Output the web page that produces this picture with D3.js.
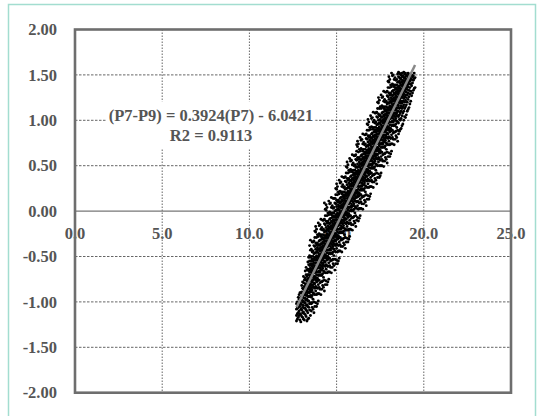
<!DOCTYPE html>
<html>
<head>
<meta charset="utf-8">
<script src="https://cdn.jsdelivr.net/npm/d3@7"></script>
<style>
  html, body { margin: 0; padding: 0; background: #fff; }
  svg { display: block; }
  .tick-label { font-family: "Liberation Serif", "Times New Roman", serif; font-weight: bold; font-size: 16.5px; fill: #555; }
</style>
</head>
<body>
<div id="chart"></div>
<script>
// axis ticks
var xTicks = [0, 5, 10, 15, 20, 25];
var yTicks = [-2, -1.5, -1, -0.5, 0, 0.5, 1, 1.5, 2];

// trendline from the chart label
var slope = 0.3924, intercept = -6.0421, r2 = 0.9113;

var p7Cols = [12.7, 12.8, 12.9, 13.0, 13.1, 13.2, 13.3, 13.4, 13.5, 13.6, 13.7, 13.8, 13.9,
  14.0, 14.1, 14.2, 14.3, 14.4, 14.5, 14.6, 14.7, 14.8, 14.9, 15.0, 15.1, 15.2, 15.3, 15.4,
  15.5, 15.6, 15.7, 15.8, 15.9, 16.0, 16.1, 16.2, 16.3, 16.4, 16.5, 16.6, 16.7, 16.8, 16.9,
  17.0, 17.1, 17.2, 17.3, 17.4, 17.5, 17.6, 17.7, 17.8, 17.9, 18.0, 18.1, 18.2, 18.3, 18.4,
  18.5, 18.6, 18.7, 18.8, 18.9, 19.0, 19.1, 19.2, 19.3, 19.4, 19.5];

var diffCols = [
  [-1.21, -1.15, -1.08, -1.02],
  [-1.17, -1.12, -1.06, -1.01, -0.95],
  [-1.20, -1.13, -1.05, -1.00, -0.96, -0.90],
  [-1.16, -1.09, -1.03, -0.98, -0.94, -0.89, -0.82],
  [-1.19, -1.11, -1.04, -0.99, -0.93, -0.90, -0.86, -0.79, -0.72],
  [-1.14, -1.07, -1.01, -0.96, -0.91, -0.87, -0.84, -0.80, -0.74, -0.66],
  [-1.21, -1.10, -1.03, -0.97, -0.92, -0.88, -0.84, -0.81, -0.77, -0.72, -0.65],
  [-1.18, -1.06, -0.99, -0.94, -0.89, -0.84, -0.80, -0.77, -0.74, -0.70, -0.66, -0.59, -0.51],
  [-1.15, -1.01, -0.93, -0.88, -0.83, -0.80, -0.76, -0.73, -0.70, -0.66, -0.63, -0.58, -0.51, -0.43, -0.32],
  [-1.06, -1.01, -0.93, -0.87, -0.82, -0.78, -0.76, -0.72, -0.69, -0.66, -0.61, -0.58, -0.53, -0.45, -0.34],
  [-1.12, -1.00, -0.91, -0.84, -0.79, -0.75, -0.72, -0.67, -0.64, -0.60, -0.57, -0.53, -0.47, -0.38, -0.33],
  [-1.01, -0.88, -0.83, -0.76, -0.73, -0.66, -0.64, -0.61, -0.57, -0.54, -0.51, -0.46, -0.42, -0.35, -0.23, -0.17],
  [-1.02, -0.91, -0.85, -0.77, -0.74, -0.67, -0.63, -0.60, -0.58, -0.54, -0.51, -0.44, -0.40, -0.35, -0.26],
  [-0.91, -0.84, -0.76, -0.70, -0.66, -0.60, -0.57, -0.52, -0.51, -0.48, -0.42, -0.38, -0.33, -0.25, -0.16],
  [-0.92, -0.78, -0.70, -0.65, -0.60, -0.56, -0.53, -0.50, -0.47, -0.43, -0.40, -0.36, -0.28, -0.20, -0.09],
  [-0.82, -0.77, -0.69, -0.63, -0.59, -0.54, -0.51, -0.48, -0.45, -0.42, -0.38, -0.34, -0.29, -0.21, -0.10],
  [-0.88, -0.76, -0.67, -0.60, -0.55, -0.51, -0.48, -0.43, -0.40, -0.36, -0.33, -0.29, -0.23, -0.14, -0.09, 0.09],
  [-0.77, -0.64, -0.59, -0.52, -0.49, -0.42, -0.40, -0.37, -0.33, -0.30, -0.27, -0.22, -0.18, -0.11, 0.01, 0.07],
  [-0.78, -0.67, -0.61, -0.53, -0.50, -0.43, -0.39, -0.36, -0.34, -0.30, -0.27, -0.20, -0.16, -0.11, -0.02],
  [-0.67, -0.60, -0.52, -0.46, -0.42, -0.36, -0.33, -0.28, -0.27, -0.24, -0.18, -0.14, -0.09, -0.01, 0.08],
  [-0.68, -0.54, -0.46, -0.41, -0.36, -0.32, -0.29, -0.26, -0.23, -0.19, -0.16, -0.11, -0.04, 0.04, 0.15],
  [-0.58, -0.53, -0.45, -0.39, -0.34, -0.30, -0.27, -0.24, -0.21, -0.18, -0.14, -0.10, -0.05, 0.03, 0.14],
  [-0.65, -0.53, -0.44, -0.37, -0.32, -0.28, -0.25, -0.20, -0.17, -0.13, -0.10, -0.06, 0.00, 0.09, 0.14],
  [-0.54, -0.41, -0.36, -0.29, -0.26, -0.19, -0.17, -0.14, -0.10, -0.07, -0.04, 0.01, 0.05, 0.12, 0.24, 0.30],
  [-0.55, -0.44, -0.38, -0.30, -0.27, -0.20, -0.16, -0.13, -0.11, -0.07, -0.04, 0.03, 0.07, 0.12, 0.21],
  [-0.44, -0.37, -0.29, -0.23, -0.19, -0.13, -0.10, -0.05, -0.04, -0.01, 0.05, 0.09, 0.14, 0.22, 0.31],
  [-0.45, -0.31, -0.23, -0.18, -0.13, -0.10, -0.06, -0.03, 0.00, 0.04, 0.07, 0.12, 0.19, 0.27, 0.38],
  [-0.35, -0.30, -0.22, -0.16, -0.11, -0.07, -0.03, -0.01, 0.02, 0.05, 0.09, 0.14, 0.18, 0.26, 0.37],
  [-0.41, -0.29, -0.20, -0.13, -0.08, -0.04, -0.01, 0.04, 0.07, 0.11, 0.14, 0.18, 0.24, 0.33, 0.38],
  [-0.30, -0.17, -0.12, -0.05, -0.02, 0.05, 0.07, 0.10, 0.14, 0.17, 0.20, 0.25, 0.29, 0.36, 0.48, 0.54],
  [-0.31, -0.20, -0.14, -0.06, -0.03, 0.04, 0.08, 0.11, 0.13, 0.17, 0.20, 0.27, 0.31, 0.36, 0.45],
  [-0.20, -0.13, -0.05, 0.01, 0.05, 0.11, 0.14, 0.19, 0.20, 0.23, 0.29, 0.33, 0.38, 0.46, 0.55],
  [-0.21, -0.07, 0.01, 0.06, 0.11, 0.15, 0.18, 0.21, 0.24, 0.28, 0.31, 0.36, 0.43, 0.51, 0.62],
  [-0.11, -0.06, 0.02, 0.08, 0.13, 0.17, 0.20, 0.23, 0.26, 0.29, 0.33, 0.37, 0.42, 0.50, 0.61],
  [-0.17, -0.05, 0.04, 0.11, 0.16, 0.20, 0.23, 0.28, 0.31, 0.35, 0.38, 0.42, 0.48, 0.57, 0.62],
  [-0.07, 0.06, 0.11, 0.18, 0.21, 0.28, 0.30, 0.33, 0.37, 0.40, 0.43, 0.48, 0.52, 0.59, 0.71, 0.77],
  [-0.08, 0.03, 0.09, 0.17, 0.20, 0.27, 0.31, 0.34, 0.36, 0.40, 0.43, 0.50, 0.54, 0.59, 0.68],
  [0.03, 0.10, 0.18, 0.24, 0.28, 0.34, 0.37, 0.42, 0.43, 0.46, 0.52, 0.56, 0.61, 0.69, 0.78],
  [0.02, 0.16, 0.24, 0.29, 0.34, 0.38, 0.41, 0.44, 0.47, 0.51, 0.54, 0.59, 0.66, 0.74, 0.85],
  [0.12, 0.17, 0.25, 0.31, 0.36, 0.40, 0.43, 0.46, 0.49, 0.52, 0.56, 0.60, 0.65, 0.73, 0.84],
  [0.06, 0.18, 0.27, 0.34, 0.39, 0.43, 0.46, 0.51, 0.54, 0.58, 0.61, 0.65, 0.71, 0.80, 0.85],
  [0.17, 0.30, 0.35, 0.42, 0.45, 0.52, 0.54, 0.57, 0.61, 0.64, 0.67, 0.72, 0.76, 0.83, 0.95, 1.01],
  [0.16, 0.27, 0.33, 0.41, 0.44, 0.51, 0.55, 0.58, 0.60, 0.64, 0.67, 0.74, 0.78, 0.83, 0.92],
  [0.27, 0.34, 0.42, 0.48, 0.52, 0.58, 0.61, 0.66, 0.67, 0.70, 0.76, 0.80, 0.85, 0.93, 1.02],
  [0.26, 0.40, 0.48, 0.53, 0.58, 0.61, 0.65, 0.68, 0.71, 0.75, 0.78, 0.83, 0.90, 0.98, 1.09],
  [0.36, 0.41, 0.49, 0.55, 0.60, 0.63, 0.67, 0.70, 0.73, 0.76, 0.80, 0.84, 0.89, 0.97, 1.08],
  [0.30, 0.42, 0.51, 0.58, 0.63, 0.67, 0.70, 0.75, 0.78, 0.82, 0.85, 0.89, 0.95, 1.04, 1.09],
  [0.41, 0.54, 0.59, 0.66, 0.69, 0.76, 0.78, 0.81, 0.85, 0.88, 0.91, 0.96, 1.00, 1.07, 1.19, 1.25],
  [0.39, 0.50, 0.56, 0.64, 0.67, 0.74, 0.78, 0.81, 0.83, 0.87, 0.90, 0.97, 1.01, 1.06, 1.15],
  [0.50, 0.57, 0.65, 0.71, 0.75, 0.81, 0.84, 0.89, 0.90, 0.93, 0.99, 1.03, 1.08, 1.16, 1.25],
  [0.49, 0.63, 0.71, 0.76, 0.81, 0.84, 0.88, 0.91, 0.94, 0.98, 1.01, 1.06, 1.13, 1.21, 1.32],
  [0.59, 0.64, 0.72, 0.78, 0.83, 0.87, 0.90, 0.93, 0.96, 0.99, 1.03, 1.07, 1.12, 1.20, 1.31],
  [0.53, 0.65, 0.74, 0.81, 0.86, 0.90, 0.93, 0.98, 1.01, 1.05, 1.08, 1.12, 1.18, 1.27, 1.32],
  [0.64, 0.77, 0.82, 0.89, 0.92, 0.99, 1.01, 1.04, 1.08, 1.11, 1.14, 1.19, 1.23, 1.30, 1.42, 1.48],
  [0.63, 0.74, 0.80, 0.88, 0.91, 0.98, 1.02, 1.05, 1.07, 1.11, 1.14, 1.21, 1.25, 1.30, 1.39],
  [0.74, 0.81, 0.89, 0.95, 0.99, 1.05, 1.08, 1.13, 1.14, 1.17, 1.23, 1.27, 1.32, 1.40, 1.49],
  [0.73, 0.87, 0.95, 1.00, 1.05, 1.08, 1.12, 1.15, 1.18, 1.22, 1.25, 1.30, 1.37, 1.45],
  [0.83, 0.88, 0.96, 1.02, 1.07, 1.11, 1.14, 1.17, 1.20, 1.23, 1.27, 1.31, 1.36, 1.44],
  [0.77, 0.89, 0.98, 1.05, 1.10, 1.14, 1.17, 1.22, 1.25, 1.29, 1.32, 1.36, 1.42, 1.51],
  [0.88, 1.01, 1.06, 1.13, 1.19, 1.23, 1.28, 1.35, 1.38, 1.43, 1.47, 1.52],
  [0.91, 1.02, 1.10, 1.16, 1.21, 1.26, 1.30, 1.34, 1.39, 1.45, 1.50],
  [0.96, 1.08, 1.15, 1.21, 1.27, 1.31, 1.35, 1.40, 1.44, 1.49],
  [1.04, 1.13, 1.20, 1.26, 1.32, 1.36, 1.41, 1.46, 1.51],
  [1.06, 1.17, 1.25, 1.31, 1.36, 1.40, 1.45, 1.50],
  [1.12, 1.23, 1.30, 1.37, 1.42, 1.47, 1.52],
  [1.18, 1.29, 1.36, 1.43, 1.48],
  [1.27, 1.38, 1.45, 1.50],
  [1.33, 1.44, 1.49],
  [1.36, 1.47]
];

// second set of bins, halfway between the first ones
var p7ColsB = [12.75, 12.85, 12.95, 13.05, 13.15, 13.25, 13.35, 13.45, 13.55, 13.65, 13.75, 13.85,
  13.95, 14.05, 14.15, 14.25, 14.35, 14.45, 14.55, 14.65, 14.75, 14.85, 14.95, 15.05, 15.15,
  15.25, 15.35, 15.45, 15.55, 15.65, 15.75, 15.85, 15.95, 16.05, 16.15, 16.25, 16.35, 16.45,
  16.55, 16.65, 16.75, 16.85, 16.95, 17.05, 17.15, 17.25, 17.35, 17.45, 17.55, 17.65, 17.75,
  17.85, 17.95, 18.05, 18.15, 18.25, 18.35, 18.45, 18.55, 18.65, 18.75, 18.85, 18.95, 19.05,
  19.15, 19.25, 19.35, 19.45];

var diffColsB = [
  [-1.19, -1.13, -1.07, -1.00],
  [-1.15, -1.10, -1.03, -0.97, -0.92],
  [-1.22, -1.14, -1.08, -1.02, -0.95, -0.90],
  [-1.17, -1.12, -1.06, -1.00, -0.95, -0.91, -0.85, -0.78],
  [-1.20, -1.13, -1.07, -1.01, -0.96, -0.92, -0.88, -0.83, -0.76],
  [-1.16, -1.09, -1.04, -0.98, -0.93, -0.89, -0.85, -0.81, -0.76, -0.70, -0.62],
  [-1.19, -1.12, -1.05, -0.99, -0.94, -0.90, -0.86, -0.82, -0.79, -0.75, -0.70, -0.64, -0.56],
  [-1.09, -1.02, -0.94, -0.90, -0.86, -0.82, -0.77, -0.75, -0.71, -0.67, -0.64, -0.60, -0.55, -0.49, -0.38],
  [-1.10, -1.02, -0.95, -0.89, -0.85, -0.81, -0.77, -0.75, -0.71, -0.67, -0.64, -0.60, -0.55, -0.50, -0.42],
  [-1.08, -0.97, -0.90, -0.84, -0.81, -0.76, -0.72, -0.69, -0.67, -0.63, -0.59, -0.55, -0.50, -0.44, -0.34],
  [-1.05, -0.92, -0.85, -0.80, -0.74, -0.72, -0.68, -0.65, -0.62, -0.60, -0.54, -0.51, -0.46, -0.39, -0.29, -0.22],
  [-1.05, -0.92, -0.84, -0.78, -0.74, -0.70, -0.67, -0.63, -0.60, -0.57, -0.53, -0.49, -0.45, -0.37, -0.29, -0.20],
  [-0.99, -0.91, -0.81, -0.76, -0.71, -0.67, -0.62, -0.60, -0.57, -0.54, -0.50, -0.46, -0.42, -0.37, -0.28, -0.13],
  [-0.86, -0.79, -0.71, -0.67, -0.63, -0.59, -0.54, -0.52, -0.48, -0.44, -0.41, -0.37, -0.32, -0.26, -0.15],
  [-0.86, -0.78, -0.71, -0.65, -0.61, -0.57, -0.53, -0.51, -0.47, -0.43, -0.40, -0.36, -0.31, -0.26, -0.18],
  [-0.84, -0.73, -0.66, -0.60, -0.57, -0.52, -0.48, -0.45, -0.43, -0.39, -0.35, -0.31, -0.26, -0.20, -0.10],
  [-0.81, -0.68, -0.61, -0.56, -0.50, -0.48, -0.44, -0.41, -0.38, -0.36, -0.30, -0.27, -0.22, -0.15, -0.05, 0.02],
  [-0.81, -0.68, -0.60, -0.54, -0.50, -0.46, -0.43, -0.39, -0.36, -0.33, -0.29, -0.25, -0.21, -0.13, -0.05, 0.04],
  [-0.75, -0.67, -0.57, -0.52, -0.47, -0.43, -0.38, -0.36, -0.33, -0.30, -0.26, -0.22, -0.18, -0.13, -0.04, 0.11],
  [-0.62, -0.55, -0.47, -0.43, -0.39, -0.35, -0.30, -0.28, -0.24, -0.20, -0.17, -0.13, -0.08, -0.02, 0.09],
  [-0.62, -0.54, -0.47, -0.41, -0.37, -0.33, -0.29, -0.27, -0.23, -0.19, -0.16, -0.12, -0.07, -0.02, 0.06],
  [-0.60, -0.49, -0.42, -0.36, -0.33, -0.28, -0.24, -0.21, -0.19, -0.15, -0.11, -0.07, -0.02, 0.04, 0.14],
  [-0.58, -0.45, -0.38, -0.33, -0.27, -0.25, -0.21, -0.18, -0.15, -0.13, -0.07, -0.04, 0.01, 0.08, 0.18, 0.25],
  [-0.58, -0.45, -0.37, -0.31, -0.27, -0.23, -0.20, -0.16, -0.13, -0.10, -0.06, -0.02, 0.02, 0.10, 0.18, 0.27],
  [-0.52, -0.44, -0.34, -0.29, -0.24, -0.20, -0.15, -0.13, -0.10, -0.07, -0.03, 0.01, 0.05, 0.10, 0.19, 0.34],
  [-0.39, -0.32, -0.24, -0.20, -0.16, -0.12, -0.07, -0.05, -0.01, 0.03, 0.06, 0.10, 0.15, 0.21, 0.32],
  [-0.39, -0.31, -0.24, -0.18, -0.14, -0.10, -0.06, -0.04, 0.00, 0.04, 0.07, 0.11, 0.16, 0.21, 0.29],
  [-0.37, -0.26, -0.19, -0.13, -0.10, -0.05, -0.01, 0.02, 0.04, 0.08, 0.12, 0.16, 0.21, 0.27, 0.37],
  [-0.34, -0.21, -0.14, -0.09, -0.03, -0.01, 0.03, 0.06, 0.09, 0.11, 0.17, 0.20, 0.25, 0.32, 0.42, 0.49],
  [-0.34, -0.21, -0.13, -0.07, -0.03, 0.01, 0.04, 0.08, 0.11, 0.14, 0.18, 0.22, 0.26, 0.34, 0.42, 0.51],
  [-0.28, -0.20, -0.10, -0.05, 0.00, 0.04, 0.09, 0.11, 0.14, 0.17, 0.21, 0.25, 0.29, 0.34, 0.43, 0.58],
  [-0.15, -0.08, 0.00, 0.04, 0.08, 0.12, 0.17, 0.19, 0.23, 0.27, 0.30, 0.34, 0.39, 0.45, 0.56],
  [-0.15, -0.07, 0.00, 0.06, 0.10, 0.14, 0.18, 0.20, 0.24, 0.28, 0.31, 0.35, 0.40, 0.45, 0.53],
  [-0.13, -0.02, 0.05, 0.11, 0.14, 0.19, 0.23, 0.26, 0.28, 0.32, 0.36, 0.40, 0.45, 0.51, 0.61],
  [-0.10, 0.03, 0.10, 0.15, 0.21, 0.23, 0.27, 0.30, 0.33, 0.35, 0.41, 0.44, 0.49, 0.56, 0.66, 0.73],
  [-0.11, 0.02, 0.10, 0.16, 0.20, 0.24, 0.27, 0.31, 0.34, 0.37, 0.41, 0.45, 0.49, 0.57, 0.65, 0.74],
  [-0.05, 0.03, 0.13, 0.18, 0.23, 0.27, 0.32, 0.34, 0.37, 0.40, 0.44, 0.48, 0.52, 0.57, 0.66, 0.81],
  [0.08, 0.15, 0.23, 0.27, 0.31, 0.35, 0.40, 0.42, 0.46, 0.50, 0.53, 0.57, 0.62, 0.68, 0.79],
  [0.08, 0.16, 0.23, 0.29, 0.33, 0.37, 0.41, 0.43, 0.47, 0.51, 0.54, 0.58, 0.63, 0.68, 0.76],
  [0.10, 0.21, 0.28, 0.34, 0.37, 0.42, 0.46, 0.49, 0.51, 0.55, 0.59, 0.63, 0.68, 0.74, 0.84],
  [0.13, 0.26, 0.33, 0.38, 0.44, 0.46, 0.50, 0.53, 0.56, 0.58, 0.64, 0.67, 0.72, 0.79, 0.89, 0.96],
  [0.13, 0.26, 0.34, 0.40, 0.44, 0.48, 0.51, 0.55, 0.58, 0.61, 0.65, 0.69, 0.73, 0.81, 0.89, 0.98],
  [0.19, 0.27, 0.37, 0.42, 0.47, 0.51, 0.56, 0.58, 0.61, 0.64, 0.68, 0.72, 0.76, 0.81, 0.90, 1.05],
  [0.32, 0.39, 0.47, 0.51, 0.55, 0.59, 0.64, 0.66, 0.70, 0.74, 0.77, 0.81, 0.86, 0.92, 1.03],
  [0.32, 0.40, 0.47, 0.53, 0.57, 0.61, 0.65, 0.67, 0.71, 0.75, 0.78, 0.82, 0.87, 0.92, 1.00],
  [0.34, 0.45, 0.52, 0.58, 0.61, 0.66, 0.70, 0.73, 0.75, 0.79, 0.83, 0.87, 0.92, 0.98, 1.08],
  [0.37, 0.50, 0.57, 0.62, 0.68, 0.70, 0.74, 0.77, 0.80, 0.82, 0.88, 0.91, 0.96, 1.03, 1.13, 1.20],
  [0.37, 0.50, 0.58, 0.64, 0.68, 0.72, 0.75, 0.79, 0.82, 0.85, 0.89, 0.93, 0.97, 1.05, 1.13, 1.22],
  [0.42, 0.50, 0.60, 0.65, 0.70, 0.74, 0.79, 0.81, 0.84, 0.87, 0.91, 0.95, 0.99, 1.04, 1.13, 1.28],
  [0.55, 0.62, 0.70, 0.74, 0.78, 0.82, 0.87, 0.89, 0.93, 0.97, 1.00, 1.04, 1.09, 1.15, 1.26],
  [0.55, 0.63, 0.70, 0.76, 0.80, 0.84, 0.88, 0.90, 0.94, 0.98, 1.01, 1.05, 1.10, 1.15, 1.23],
  [0.57, 0.68, 0.75, 0.81, 0.84, 0.89, 0.93, 0.96, 0.98, 1.02, 1.06, 1.10, 1.15, 1.21, 1.31],
  [0.60, 0.73, 0.80, 0.85, 0.91, 0.93, 0.97, 1.00, 1.03, 1.05, 1.11, 1.14, 1.19, 1.26, 1.36, 1.43],
  [0.60, 0.73, 0.81, 0.87, 0.91, 0.95, 0.98, 1.02, 1.05, 1.08, 1.12, 1.16, 1.20, 1.28, 1.36, 1.45],
  [0.66, 0.74, 0.84, 0.89, 0.94, 0.98, 1.03, 1.05, 1.08, 1.11, 1.15, 1.19, 1.23, 1.28, 1.37, 1.52],
  [0.79, 0.86, 0.94, 0.98, 1.02, 1.06, 1.11, 1.13, 1.17, 1.21, 1.24, 1.28, 1.33, 1.39, 1.50],
  [0.79, 0.87, 0.94, 1.00, 1.04, 1.08, 1.12, 1.14, 1.18, 1.22, 1.25, 1.29, 1.34, 1.39, 1.47],
  [0.81, 0.92, 0.99, 1.05, 1.08, 1.13, 1.17, 1.20, 1.22, 1.26, 1.30, 1.34, 1.39, 1.45],
  [0.85, 0.97, 1.04, 1.10, 1.16, 1.21, 1.25, 1.30, 1.33, 1.37, 1.42, 1.48, 1.53],
  [0.90, 1.00, 1.08, 1.14, 1.19, 1.24, 1.29, 1.32, 1.36, 1.41, 1.46, 1.51],
  [0.94, 1.05, 1.13, 1.19, 1.25, 1.29, 1.33, 1.38, 1.42, 1.48, 1.52],
  [1.00, 1.10, 1.17, 1.24, 1.29, 1.34, 1.38, 1.43, 1.47, 1.53],
  [1.03, 1.15, 1.22, 1.28, 1.34, 1.38, 1.43, 1.48, 1.52],
  [1.10, 1.20, 1.28, 1.34, 1.39, 1.44, 1.49],
  [1.14, 1.26, 1.33, 1.40, 1.45, 1.50],
  [1.21, 1.32, 1.40, 1.46, 1.51],
  [1.30, 1.41, 1.48],
  [1.35, 1.46, 1.52]
];

var points = [];
function addCols(xs, ys) {
  xs.forEach(function(p7, i) {
    ys[i].forEach(function(v) { points.push({p7: p7, diff: v}); });
  });
}
addCols(p7Cols, diffCols);
addCols(p7ColsB, diffColsB);

var width = 537, height = 416;
var margin = {top: 29.5, right: 26, bottom: 23.3, left: 75},
  chartWidth = width - margin.left - margin.right,
  chartHeight = height - margin.top - margin.bottom;

var svg = d3.select("#chart").append("svg")
  .attr("width", width)
  .attr("height", height);

// outer frame
svg.append("rect")
  .attr("x", 8.5).attr("y", 4.5)
  .attr("width", 527).attr("height", 430)
  .attr("fill", "none")
  .attr("stroke", "#a3ddd0")
  .attr("stroke-width", 1.5);

var x = d3.scaleLinear().domain([0, 25]).range([0, chartWidth]);
var y = d3.scaleLinear().domain([-2, 2]).range([chartHeight, 0]);

var loc = d3.formatLocale({decimal: ".", thousands: ",", grouping: [3], currency: ["", ""], minus: "-"});
var fx = loc.format(".1f"), fy = loc.format(".2f");

var g = svg.append("g")
  .attr("transform", "translate(" + margin.left + "," + margin.top + ")");

// y labels
g.selectAll(".ylab")
  .data(yTicks)
  .enter().append("text")
  .attr("class", "tick-label")
  .attr("x", -18)
  .attr("y", function(d) { return y(d); })
  .attr("dy", "0.35em")
  .attr("text-anchor", "end")
  .text(function(d) { return fy(d); });

// x labels, hung under the zero line
g.selectAll(".xlab")
  .data(xTicks)
  .enter().append("text")
  .attr("class", "tick-label")
  .attr("x", function(d) { return x(d); })
  .attr("y", y(0) + 28)
  .attr("text-anchor", "middle")
  .text(function(d) { return fx(d); });

// dotted grid
g.selectAll(".hgrid")
  .data(yTicks.filter(function(d) { return d !== 0 && Math.abs(d) !== 2; }))
  .enter().append("line")
  .attr("x1", 0).attr("x2", chartWidth)
  .attr("y1", function(d) { return y(d); })
  .attr("y2", function(d) { return y(d); })
  .attr("stroke", "#666")
  .attr("stroke-width", 1)
  .attr("stroke-dasharray", "2.5,1.5");

g.selectAll(".vgrid")
  .data(xTicks.filter(function(d) { return d > 0 && d < 25; }))
  .enter().append("line")
  .attr("x1", function(d) { return x(d); })
  .attr("x2", function(d) { return x(d); })
  .attr("y1", 0).attr("y2", chartHeight)
  .attr("stroke", "#666")
  .attr("stroke-width", 1)
  .attr("stroke-dasharray", "1.5,1.5");

// zero line
g.append("line")
  .attr("x1", 0).attr("x2", chartWidth)
  .attr("y1", y(0)).attr("y2", y(0))
  .attr("stroke", "#777")
  .attr("stroke-width", 1.3);

// points
g.selectAll(".dot")
  .data(points)
  .enter().append("circle")
  .attr("cx", function(d) { return x(d.p7); })
  .attr("cy", function(d) { return y(d.diff); })
  .attr("r", 1.45)
  .attr("fill", "#000");

// trendline
var ext = d3.extent(points, function(d) { return d.p7; });
g.append("line")
  .attr("x1", x(ext[0])).attr("y1", y(slope * ext[0] + intercept))
  .attr("x2", x(ext[1])).attr("y2", y(slope * ext[1] + intercept))
  .attr("stroke", "#888")
  .attr("stroke-width", 2.5);

// plot border
g.append("rect")
  .attr("width", chartWidth).attr("height", chartHeight)
  .attr("fill", "none")
  .attr("stroke", "#6e6e6e")
  .attr("stroke-width", 2.6);

// equation label
var eq = g.append("g");
var eqBox = eq.append("rect").attr("fill", "#fff");
eq.append("text")
  .attr("class", "tick-label")
  .attr("x", 136).attr("y", 91)
  .attr("text-anchor", "middle")
  .text("(P7-P9) = " + slope + "(P7) - " + Math.abs(intercept));
eq.append("text")
  .attr("class", "tick-label")
  .attr("x", 136).attr("y", 111)
  .attr("text-anchor", "middle")
  .text("R2 = " + r2);
var bb = eq.node().getBBox();
eqBox.attr("x", bb.x - 2).attr("y", bb.y - 4)
  .attr("width", bb.width + 4).attr("height", bb.height + 8);
</script>
</body>
</html>
